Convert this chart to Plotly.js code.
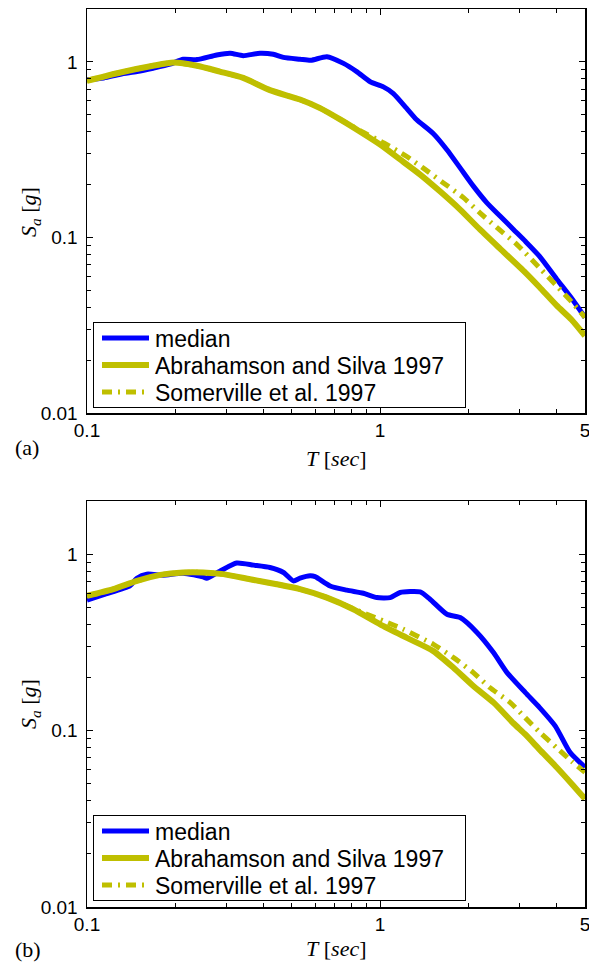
<!DOCTYPE html>
<html>
<head>
<meta charset="utf-8">
<script src="https://cdn.plot.ly/plotly-3.0.1.min.js"></script>
<style>html,body{margin:0;padding:0;background:#fff;}#chart{width:589px;height:962px;}</style>
</head>
<body>
<div id="chart"></div>
<script>
// ---------- data ----------
// Panel (a)
var T_med_a = [0.1, 0.114, 0.13, 0.148, 0.168, 0.192, 0.213, 0.237, 0.277, 0.308, 0.341, 0.389, 0.432, 0.468, 0.533, 0.58, 0.658, 0.75, 0.832, 0.925, 1.026, 1.11, 1.23, 1.33, 1.52, 1.69, 1.875, 2.08, 2.31, 2.57, 2.85, 3.13, 3.5, 4.0, 4.5, 5.0];
var Sa_med_a = [0.79, 0.81, 0.85, 0.88, 0.92, 0.97, 1.035, 1.03, 1.095, 1.12, 1.085, 1.12, 1.105, 1.06, 1.035, 1.02, 1.07, 0.98, 0.88, 0.77, 0.72, 0.66, 0.545, 0.47, 0.39, 0.316, 0.249, 0.196, 0.158, 0.132, 0.111, 0.095, 0.078, 0.058, 0.045, 0.035];

var T_as_a = [0.1, 0.13, 0.168, 0.197, 0.237, 0.284, 0.341, 0.421, 0.533, 0.624, 0.73, 0.855, 1.0, 1.17, 1.37, 1.6, 1.875, 2.19, 2.57, 3.13, 3.5, 4.0, 4.5, 5.0];
var Sa_as_a = [0.78, 0.87, 0.95, 0.99, 0.95, 0.88, 0.81, 0.69, 0.61, 0.545, 0.47, 0.40, 0.338, 0.278, 0.228, 0.183, 0.144, 0.111, 0.086, 0.063, 0.052, 0.041, 0.034, 0.0275];

var T_sv_a = [0.1, 0.13, 0.168, 0.197, 0.237, 0.284, 0.341, 0.421, 0.533, 0.624, 0.73, 0.855, 1.03, 1.23, 1.40, 1.64, 1.92, 2.19, 2.5, 2.93, 3.5, 4.0, 4.5, 5.0];
var Sa_sv_a = [0.78, 0.87, 0.95, 0.99, 0.95, 0.88, 0.81, 0.69, 0.61, 0.545, 0.47, 0.405, 0.345, 0.29, 0.249, 0.205, 0.169, 0.138, 0.114, 0.091, 0.067, 0.053, 0.043, 0.035];

// Panel (b)
var T_med_b = [0.1, 0.114, 0.14, 0.148, 0.16, 0.182, 0.213, 0.249, 0.256, 0.284, 0.324, 0.37, 0.421, 0.468, 0.506, 0.533, 0.577, 0.6, 0.675, 0.77, 0.877, 0.974, 1.082, 1.17, 1.37, 1.48, 1.69, 1.875, 2.14, 2.44, 2.71, 3.13, 3.5, 3.96, 4.45, 5.0];
var Sa_med_b = [0.548, 0.59, 0.66, 0.73, 0.77, 0.76, 0.78, 0.743, 0.73, 0.80, 0.89, 0.866, 0.84, 0.787, 0.705, 0.73, 0.753, 0.745, 0.66, 0.625, 0.6, 0.567, 0.567, 0.606, 0.61, 0.555, 0.456, 0.437, 0.36, 0.276, 0.213, 0.164, 0.135, 0.106, 0.075, 0.062];

var T_as_b = [0.1, 0.123, 0.148, 0.178, 0.213, 0.249, 0.292, 0.36, 0.444, 0.533, 0.658, 0.81, 1.0, 1.23, 1.52, 1.78, 2.08, 2.44, 2.85, 3.13, 3.5, 4.0, 4.5, 5.0];
var Sa_as_b = [0.58, 0.633, 0.705, 0.763, 0.787, 0.787, 0.77, 0.72, 0.675, 0.633, 0.567, 0.487, 0.40, 0.336, 0.282, 0.227, 0.179, 0.144, 0.11, 0.095, 0.078, 0.062, 0.05, 0.041];

var T_sv_b = [0.1, 0.123, 0.148, 0.178, 0.213, 0.249, 0.292, 0.36, 0.444, 0.533, 0.658, 0.81, 1.026, 1.2, 1.52, 1.78, 2.08, 2.37, 2.78, 3.13, 3.5, 4.0, 4.5, 5.0];
var Sa_sv_b = [0.58, 0.633, 0.705, 0.763, 0.787, 0.787, 0.77, 0.72, 0.675, 0.633, 0.567, 0.49, 0.418, 0.375, 0.308, 0.259, 0.213, 0.175, 0.144, 0.118, 0.098, 0.08, 0.067, 0.058];

var seriesNames = ["median", "Abrahamson and Silva 1997", "Somerville et al. 1997"];
var xMajorTicks = [0.1, 1, 5];
var xMajorText = ["0.1", "1", "5"];
var xMinorTicks = [0.2, 0.3, 0.4, 0.5, 0.6, 0.7, 0.8, 0.9, 2, 3, 4];
var yMajorTicks = [0.01, 0.1, 1];
var yMajorText = ["0.01", "0.1", "1"];
var yMinorTicks = [0.02, 0.03, 0.04, 0.05, 0.06, 0.07, 0.08, 0.09, 0.2, 0.3, 0.4, 0.5, 0.6, 0.7, 0.8, 0.9];

// ---------- styling ----------
var BLUE = "#0000ff", OLIVE = "#bfbf00";
var W = 589, H = 962;
function px2x(p){ return p / W; }
function px2y(p){ return 1 - p / H; }

function mkTrace(x, y, name, color, width, dash, xa, ya, leg){
  return {x: x, y: y, name: name, type: "scatter", mode: "lines",
    line: {color: color, width: width, dash: dash, shape: "spline", smoothing: 0.6},
    xaxis: xa, yaxis: ya, legend: leg, hoverinfo: "skip"};
}
var DASHDOT = "10px,6px,2px,6px";
var traces = [
  mkTrace(T_med_a, Sa_med_a, seriesNames[0], BLUE, 5, "solid", "x", "y", "legend"),
  mkTrace(T_as_a, Sa_as_a, seriesNames[1], OLIVE, 6, "solid", "x", "y", "legend"),
  mkTrace(T_sv_a, Sa_sv_a, seriesNames[2], OLIVE, 5, DASHDOT, "x", "y", "legend"),
  mkTrace(T_med_b, Sa_med_b, seriesNames[0], BLUE, 5, "solid", "x2", "y2", "legend2"),
  mkTrace(T_as_b, Sa_as_b, seriesNames[1], OLIVE, 6, "solid", "x2", "y2", "legend2"),
  mkTrace(T_sv_b, Sa_sv_b, seriesNames[2], OLIVE, 5, DASHDOT, "x2", "y2", "legend2")
];

var tickFont = {family: "Liberation Sans, Arial, sans-serif", size: 19, color: "#000"};
function xAxis(anchor, dom){
  return {type: "log", domain: dom, anchor: anchor, range: [-1, Math.log10(5)],
    tickmode: "array", tickvals: xMajorTicks, ticktext: xMajorText,
    ticks: "inside", ticklen: 6, tickwidth: 1, tickcolor: "#000",
    minor: {tickmode: "array", tickvals: xMinorTicks, ticks: "inside", ticklen: 4, tickwidth: 1, tickcolor: "#000", showgrid: false},
    showline: true, linecolor: "#000", linewidth: 1.5, mirror: "ticks",
    showgrid: false, zeroline: false, tickfont: tickFont, ticklabeloverflow: "allow", fixedrange: true};
}
function yAxis(anchor, dom){
  return {type: "log", domain: dom, anchor: anchor, range: [-2, Math.log10(2)],
    tickmode: "array", tickvals: yMajorTicks, ticktext: yMajorText,
    ticks: "inside", ticklen: 6, tickwidth: 1, tickcolor: "#000",
    minor: {tickmode: "array", tickvals: yMinorTicks, ticks: "inside", ticklen: 4, tickwidth: 1, tickcolor: "#000", showgrid: false},
    showline: true, linecolor: "#000", linewidth: 1.5, mirror: "ticks",
    showgrid: false, zeroline: false, tickfont: tickFont, ticklabelstandoff: 4, ticklabeloverflow: "allow", fixedrange: true};
}
var xDom = [px2x(87), px2x(585)];
var legendBase = {bgcolor: "#fff", bordercolor: "#000", borderwidth: 1,
  font: {family: "Liberation Sans, Arial, sans-serif", size: 23, color: "#000"},
  xanchor: "left", yanchor: "top", tracegroupgap: 0, itemwidth: 52};

var serif = "Liberation Serif, Times New Roman, serif";
var labFont = {family: serif, size: 22, color: "#000"};
function ann(text, xp, yp, opts){
  var a = {text: text, x: px2x(xp), y: px2y(yp), xref: "paper", yref: "paper",
    showarrow: false, xanchor: "center", yanchor: "middle", font: labFont};
  for (var k in (opts||{})) a[k] = opts[k];
  return a;
}
var xTitle = "<i>T</i> [<i>sec</i>]";
var yTitle = "<i>S</i><sub><i>a</i></sub> [<i>g</i>]";

var layout = {
  width: W, height: H, margin: {l: 0, r: 0, t: 0, b: 0},
  paper_bgcolor: "#fff", plot_bgcolor: "#fff", showlegend: true,
  xaxis: xAxis("y", xDom),
  yaxis: yAxis("x", [px2y(413), px2y(9)]),
  xaxis2: xAxis("y2", xDom),
  yaxis2: yAxis("x2", [px2y(907), px2y(501)]),
  legend: Object.assign({}, legendBase, {x: px2x(93), y: px2y(322)}),
  legend2: Object.assign({}, legendBase, {x: px2x(93), y: px2y(815)}),
  annotations: [
    ann(xTitle, 336, 459),
    ann(yTitle, 30, 212, {textangle: -90}),
    ann("(a)", 13, 447, {xanchor: "left"}),
    ann(xTitle, 336, 948),
    ann(yTitle, 30, 704, {textangle: -90}),
    ann("(b)", 13, 949, {xanchor: "left"})
  ]
};

// compact MATLAB-style legend rows (row pitch / box size)
var LEG_TOP = 16, LEG_STEP = 27, LEG_H = 85, LEG_W = 372;
function tightenLegends(){
  ["legend", "legend2"].forEach(function(id){
    var g = document.querySelector("#chart g." + id);
    if (!g) return;
    var items = g.querySelectorAll("g.traces");
    items.forEach(function(it, i){
      it.setAttribute("transform", "translate(0," + (LEG_TOP + i * LEG_STEP) + ")");
    });
    var bg = g.querySelector("rect.bg");
    if (bg){ bg.setAttribute("height", LEG_H); bg.setAttribute("width", LEG_W); }
    g.querySelectorAll("g.legendlines path").forEach(function(p){ p.setAttribute("d", "M9,0h47"); });
  });
}

Plotly.newPlot("chart", traces, layout, {displayModeBar: false, staticPlot: true}).then(tightenLegends);
</script>
</body>
</html>
